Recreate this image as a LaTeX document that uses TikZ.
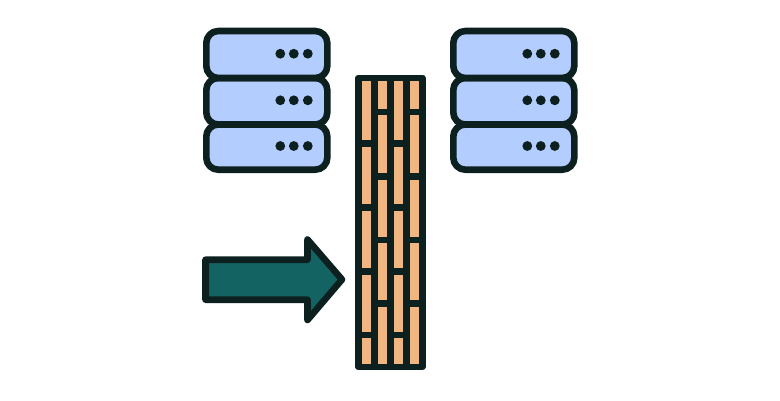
\documentclass[tikz,border=0pt]{standalone}
\usepackage{xcolor}
\usepackage{tikz}
\definecolor{ink}{HTML}{0C2020}
\definecolor{serverblue}{HTML}{B4CDFF}
\definecolor{brick}{HTML}{F0B682}
\definecolor{arrowteal}{HTML}{136363}
\tikzset{
	outline/.style = {draw = ink, line width = 6.6pt, line join = round},
	mortar/.style = {draw = ink, line width = 6.6pt}
}
\begin{document}
\begin{tikzpicture} [x = 1pt, y = -1pt]
	\useasboundingbox (0,0) rectangle (780,400);
	% the two racks
	\foreach \rackx in {206.3,453.3} {
		\foreach \top/\bottom/\doty in {78/124.5/100.3, 124.5/169.7/146, 31/78/53.7} {
			\draw [outline, fill = serverblue, rounded corners = 12pt] (\rackx,\top) rectangle (\rackx+121,\bottom);
			\foreach \dotx in {74,87.5,101.5}
				\fill [ink] (\rackx+\dotx,\doty) circle (4.9pt);
		}
	}
	% wall
	\draw [outline, fill = brick] (358.3,77.8) rectangle (422.3,367);
	\foreach \wallx in {374.3,390.3,406.3}
		\draw [mortar] (\wallx,77.8) -- (\wallx,367);
	\foreach \wally in {143.3,207.3,271.3,335} {
		\draw [mortar] (358.3,\wally) -- (374.3,\wally);
		\draw [mortar] (390.3,\wally) -- (406.3,\wally);
	}
	\foreach \wally in {112,176.3,240,303.7} {
		\draw [mortar] (374.3,\wally) -- (390.3,\wally);
		\draw [mortar] (406.3,\wally) -- (422.3,\wally);
	}
	% arrow
	\draw [outline, fill = arrowteal] (205.5,259.7) -- (307.5,259.7) -- (307.5,239.5) -- (342,279.5) -- (307.5,320) -- (307.5,299.7) -- (205.5,299.7) -- cycle;
\end{tikzpicture}
\end{document}
